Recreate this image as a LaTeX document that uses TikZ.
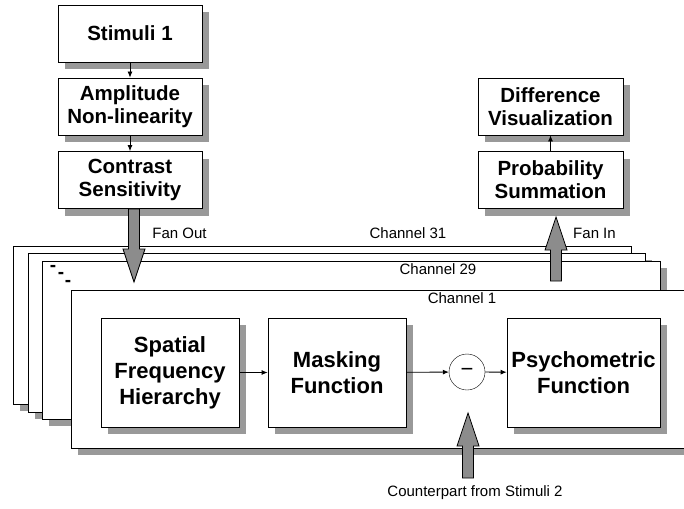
\documentclass[tikz,border=0pt]{standalone}
\usepackage{fontspec}
\setmainfont{Liberation Sans}
\usepackage{tikz}
\usetikzlibrary{shapes,arrows.meta,calc,shadows}
\tikzstyle{block} = [rectangle, draw, fill=white, line width=0.8pt, align=center,
    inner sep=0pt, general shadow={fill=black!40, shadow xshift=7pt, shadow yshift=-7pt}]
\tikzstyle{topblock} = [block, minimum width=144pt, minimum height=57pt,
    font=\fontsize{20.5}{23}\selectfont\bfseries]
\tikzstyle{chblock} = [block, minimum height=109pt,
    font=\fontsize{22}{26}\selectfont\bfseries]
\tikzstyle{frame} = [block, minimum width=618pt, minimum height=158pt]
\tikzstyle{lbl} = [font=\fontsize{15}{18}\selectfont, inner sep=0pt]
\tikzstyle{dashmark} = [inner sep=0pt, font=\fontsize{19}{19}\selectfont\bfseries]
\tikzstyle{fat} = [draw, fill=black!45, line width=0.8pt]

% vertical block arrow from #1 to its tip at #2
\newcommand{\fatarrow}[2]{%
  \draw[fat] let \p1=(#1), \p2=(#2), \p3=($(#2)!33pt!(#1)$) in
    (\x1-5.5pt,\y1) -- (\x3-5.5pt,\y3) -- (\x3-11pt,\y3) -- (\p2)
    -- (\x3+11pt,\y3) -- (\x3+5.5pt,\y3) -- (\x1+5.5pt,\y1) -- cycle;}

\begin{document}
\begin{tikzpicture}[x=1pt, y=-1pt, >={Latex[length=6pt,width=5pt]}]
	\useasboundingbox (0,0) rectangle (684,508);
	\clip (0,0) rectangle (684,508);

	% Place nodes
	\node [topblock] at (130,33.5) (stimuli) {Stimuli 1};
	\node [topblock] at (130,106.5) (amplitude) {Amplitude\\Non-linearity};
	\node [topblock] at (130,180) (contrast) {Contrast\\Sensitivity};

	\node [topblock, minimum width=145pt] at (550.5,106.5) (diffvis) {Difference\\Visualization};
	\node [topblock, minimum width=145pt] at (550.5,180) (probsum) {Probability\\Summation};

	% channel stack
	\node [frame] at (322,325) (ch31) {};
	\node [frame, minimum width=617pt, minimum height=159pt] at (336.5,332.5) (ch30) {};
	\node [frame] at (351,340) (ch29) {};
	\node [frame, minimum width=629pt] at (385.5,369) (ch1) {};

	\node [lbl] at (408,233) (lab31) {Channel 31};
	\node [lbl] at (438,269) (lab29) {Channel 29};
	\node [lbl] at (462,298) (lab1) {Channel 1};

	\node [dashmark] at (53,268) (dot1) {-};
	\node [dashmark] at (61,275) (dot2) {-};
	\node [dashmark] at (68,283) (dot3) {-};

	\node [chblock, minimum width=138pt] at (170,372.5) (spatial) {Spatial\\Frequency\\Hierarchy};
	\node [chblock, minimum width=138pt] at (337,372.5) (masking) {Masking\\Function};
	\node [circle, draw, fill=white, minimum size=36pt, inner sep=0pt,
	       font=\fontsize{22}{22}\selectfont] at (467,372) (minus) {−};
	\node [chblock, minimum width=153pt] at (583.5,372.5) (psycho) {Psychometric\\Function};

	\node [lbl] at (179.5,233) (fanoutlab) {Fan Out};
	\node [lbl] at (594.5,233) (faninlab) {Fan In};
	\node [lbl] at (475,493) (cpartlab) {Counterpart from Stimuli 2};

	\coordinate (fanouttip) at (134,282);
	\coordinate (fanoutbase) at (contrast.south -| fanouttip);
	\coordinate (faninbase) at (556,281);
	\coordinate (fanintip) at (556,217);
	\coordinate (cpartbase) at (468,478);
	\coordinate (cparttip) at (468,413);

	\draw[->, thick](stimuli)--(amplitude);
	\draw[->, thick](amplitude)--(contrast);
	\draw[->, thick](probsum)--(diffvis);

	\draw[->, thick](spatial)--(masking);
	\draw[->, thick](masking)--(minus);
	\draw[->, thick](minus)--(psycho);

	\fatarrow{fanoutbase}{fanouttip}
	\fatarrow{faninbase}{fanintip}
	\fatarrow{cpartbase}{cparttip}
\end{tikzpicture}
\end{document}
